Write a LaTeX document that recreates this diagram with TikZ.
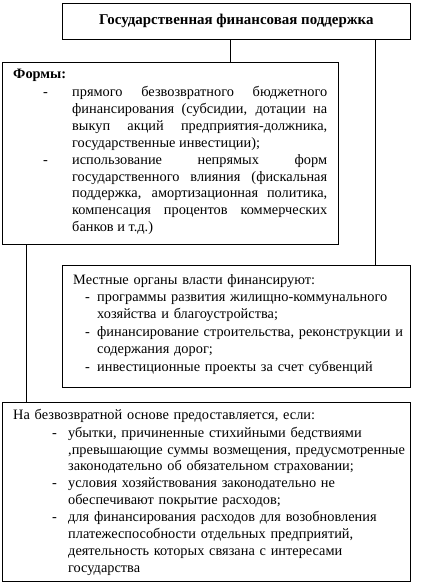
\documentclass[tikz,border=0pt]{standalone}
\usepackage{fontspec}
\setmainfont{Liberation Serif}
\usetikzlibrary{calc}
% dash item: #1 dash offset, #2 text indent
\newcommand{\dashitem}[2]{\par\noindent\hangindent=#2\hangafter=1\makebox[#2][l]{\hspace{#1}-}}

\begin{document}
\begin{tikzpicture}[x=1bp,y=-1bp,
    box/.style={draw, line width=0.8bp, anchor=north west, inner sep=0pt},
    txt/.style={anchor=north west, inner sep=0pt, font=\fontsize{14.4}{17}\selectfont},
    link/.style={line width=0.8bp}]
  \useasboundingbox (0,0) rectangle (426,585);
  % boxes
  \node[box, minimum width=348bp, minimum height=36bp] (top) at (62,3) {};
  \node[box, minimum width=336bp, minimum height=182bp] (forms) at (2,62) {};
  \node[box, minimum width=348bp, minimum height=122bp] (local) at (62,265) {};
  \node[box, minimum width=408bp, minimum height=179bp] (free) at (2,402) {};
  % texts
  \node[font=\fontsize{15}{17}\bfseries] (title) at (top.center) {Государственная финансовая поддержка};
  \node[txt, text width=314bp, align=justify, font=\fontsize{14.4}{16.9}\selectfont] (formstext)
    at ($(forms.north west)+(11,4.2)$) {%
    \noindent\strut\textbf{Формы:}\par\vspace{1.8bp}
    \dashitem{30bp}{59bp}прямого безвозвратного бюджетного\linebreak
    финансирования (субсидии, дотации на\linebreak
    выкуп акций предприятия-должника,\linebreak
    государственные инвестиции);
    \dashitem{30bp}{59bp}использование непрямых форм\linebreak
    государственного влияния (фискальная\linebreak
    поддержка, амортизационная политика,\linebreak
    компенсация процентов коммерческих\linebreak
    банков и т.д.)\par};
  \node[txt, text width=336bp, align=left] (localtext)
    at ($(local.north west)+(11,7.1)$) {%
    \noindent\strut Местные органы власти финансируют:
    \dashitem{12bp}{24bp}программы развития жилищно-коммунального\newline
    хозяйства и благоустройства;\par\vspace{1.5bp}
    \dashitem{12bp}{24bp}финансирование строительства, реконструкции и\newline
    содержания дорог;\par\vspace{1.5bp}
    \dashitem{12bp}{24bp}инвестиционные проекты за счет субвенций\par};
  \node[txt, text width=396bp, align=left] (freetext)
    at ($(free.north west)+(11,5.1)$) {%
    \noindent\strut На безвозвратной основе предоставляется, если:\par\vspace{1bp}
    \dashitem{39bp}{55bp}убытки, причиненные стихийными бедствиями\newline
    ,превышающие суммы возмещения, предусмотренные\newline
    законодательно об обязательном страховании;
    \dashitem{39bp}{55bp}условия хозяйствования законодательно не\newline
    обеспечивают покрытие расходов;
    \dashitem{39bp}{55bp}для финансирования расходов для возобновления\newline
    платежеспособности отдельных предприятий,\newline
    деятельность которых связана с интересами\newline
    государства\par};
  % connectors
  \coordinate (c1) at (230,0);
  \coordinate (c2) at (375,0);
  \coordinate (c3) at (26,0);
  \draw[link] (top.south -| c1) -- (forms.north -| c1);
  \draw[link] (top.south -| c2) -- (local.north -| c2);
  \draw[link] (forms.south -| c3) -- (free.north -| c3);
\end{tikzpicture}
\end{document}
